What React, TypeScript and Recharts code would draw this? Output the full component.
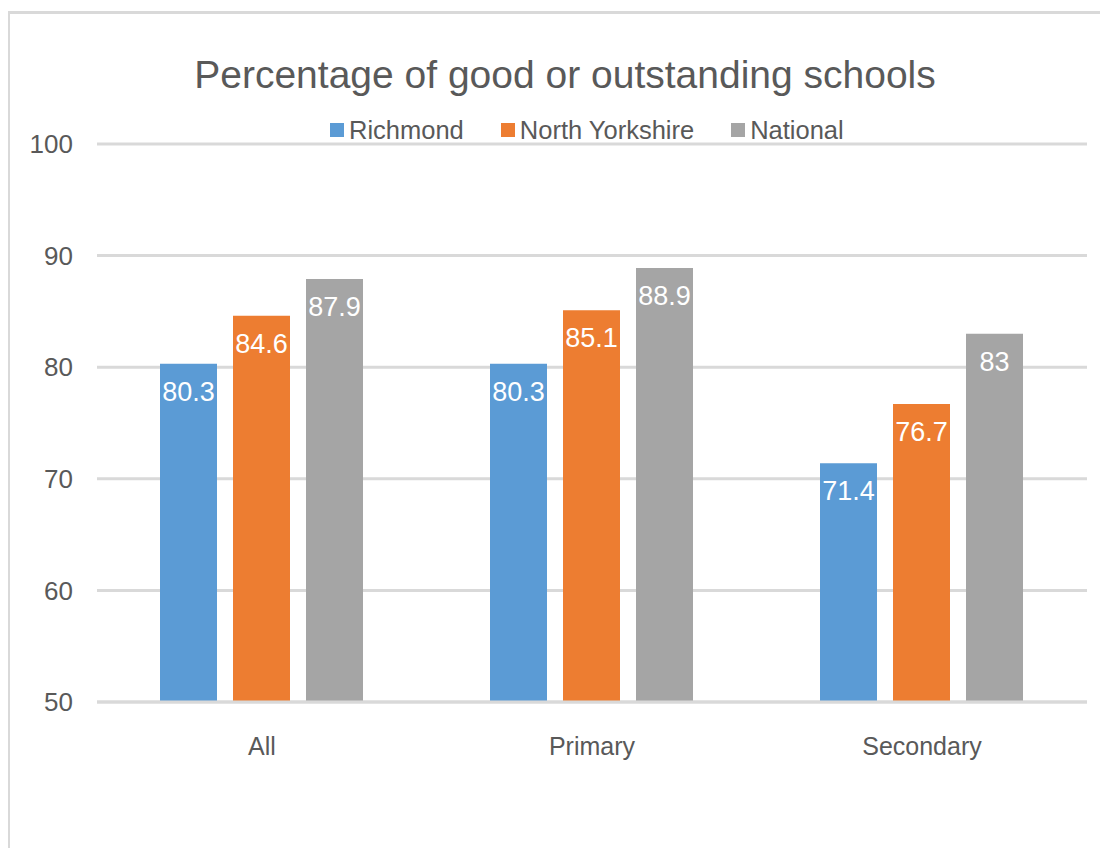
import React from "react";
import {
  BarChart,
  Bar,
  XAxis,
  YAxis,
  CartesianGrid,
  LabelList,
} from "recharts";

const categories = ["All", "Primary", "Secondary"];
const richmond = [80.3, 80.3, 71.4];
const northYorkshire = [84.6, 85.1, 76.7];
const national = [87.9, 88.9, 83];
const yTicks = [50, 60, 70, 80, 90, 100];

const series = [
  { key: "richmond", name: "Richmond", color: "#5b9bd5" },
  { key: "northYorkshire", name: "North Yorkshire", color: "#ed7d31" },
  { key: "national", name: "National", color: "#a5a5a5" },
];

const data = categories.map((c, i) => ({
  category: c,
  richmond: richmond[i],
  northYorkshire: northYorkshire[i],
  national: national[i],
}));

const FONT = '"Liberation Sans", Arial, sans-serif';
const TEXT = "#595959";
const GRID = "#d9d9d9";

export default function App() {
  return (
    <div
      style={{
        position: "relative",
        width: 1092,
        height: 840,
        overflow: "hidden",
        fontFamily: FONT,
        background: "#fff",
      }}
    >
      {/* chart frame, runs off the right and bottom like the original */}
      <div
        style={{
          position: "absolute",
          top: 3,
          left: -1,
          width: 1200,
          height: 1000,
          border: `3px solid ${GRID}`,
        }}
      />
      <div
        style={{
          position: "absolute",
          top: 47,
          left: 557,
          transform: "translateX(-50%)",
          whiteSpace: "nowrap",
          fontSize: 39,
          lineHeight: "39px",
          color: TEXT,
        }}
      >
        Percentage of good or outstanding schools
      </div>
      <div
        style={{
          position: "absolute",
          top: 107,
          left: 322,
          height: 30,
          display: "flex",
          alignItems: "center",
          fontSize: 25.5,
          color: TEXT,
          whiteSpace: "nowrap",
        }}
      >
        {series.map((s) => (
          <div
            key={s.key}
            style={{ display: "flex", alignItems: "center", marginRight: 37 }}
          >
            <span
              style={{
                display: "inline-block",
                width: 14,
                height: 14,
                background: s.color,
                marginRight: 5,
              }}
            />
            {s.name}
          </div>
        ))}
      </div>
      <BarChart
        width={1092}
        height={840}
        data={data}
        margin={{ top: 136, right: 13, bottom: 86, left: 0 }}
        barCategoryGap={63}
        barGap={16}
      >
        <CartesianGrid vertical={false} stroke={GRID} strokeWidth={3} />
        <XAxis
          dataKey="category"
          height={60}
          tickLine={false}
          tickSize={0}
          tickMargin={35}
          axisLine={{ stroke: GRID, strokeWidth: 3 }}
          tick={{ fontSize: 25, fill: TEXT, fontFamily: FONT }}
        />
        <YAxis
          width={89}
          domain={[50, 100]}
          ticks={yTicks}
          interval={0}
          tickLine={false}
          tickSize={0}
          tickMargin={24}
          axisLine={false}
          tick={{ fontSize: 26, fill: TEXT, fontFamily: FONT }}
        />
        {series.map((s) => (
          <Bar
            key={s.key}
            dataKey={s.key}
            name={s.name}
            fill={s.color}
            isAnimationActive={false}
          >
            <LabelList
              dataKey={s.key}
              position="insideTop"
              offset={18}
              fill="#ffffff"
              style={{ fontSize: 27, fontFamily: FONT }}
            />
          </Bar>
        ))}
      </BarChart>
    </div>
  );
}
